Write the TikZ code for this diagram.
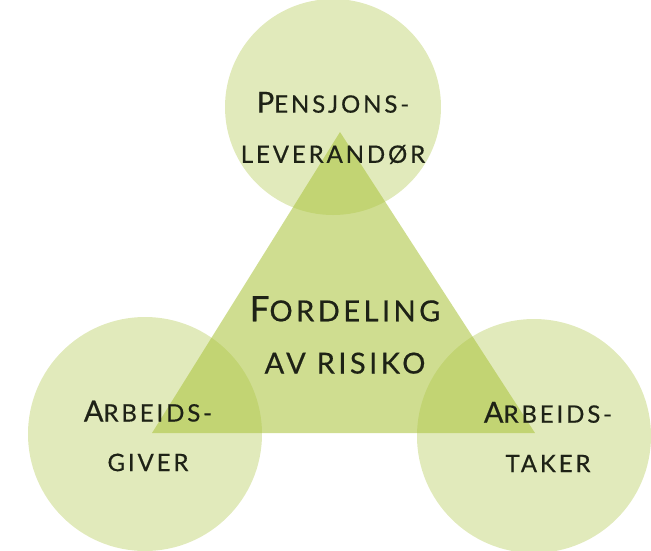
\documentclass[tikz,border=0pt]{standalone}
\usepackage{fontspec}
\setmainfont[LetterSpace=12, FakeBold=0.5]{Lato}
\definecolor{riskgreen}{RGB}{170,195,60}
\definecolor{labelink}{RGB}{30,34,22}
% fake small caps: first letter large, rest small
\newcommand{\smcaps}[4]{{\fontsize{#3}{#3}\selectfont #1}{\fontsize{#4}{#4}\selectfont #2}}

\begin{document}
\begin{tikzpicture}[x=1pt, y=-1pt]
    \tikzset{party/.style={circle, fill=riskgreen, fill opacity=0.35, inner sep=0pt, minimum size=#1},
             partytext/.style={text=labelink, align=center, inner sep=0pt},
             risk/.style={fill=riskgreen, fill opacity=0.57}}
    \useasboundingbox (0,0) rectangle (651,550);

    \node[party=216pt] (leverandor) at (333,107) {};
    \node[party=234pt] (giver) at (145,434) {};
    \node[party=234pt] (taker) at (534,436) {};

    \coordinate (apex) at (340,132);
    \coordinate (left) at (152,433);
    \coordinate (right) at (535,433);
    \fill[risk] (apex) -- (left) -- (right) -- cycle;

    \node[partytext] (leverandortext) at (333,128) {\smcaps{P}{ENSJONS-}{29}{24}\\[31pt] \smcaps{}{LEVERANDØR}{29}{24}};
    \node[partytext] (risikotext) at (345,335) {\smcaps{F}{ORDELING}{35}{29}\\[30pt] \smcaps{}{AV RISIKO}{35}{29}};
    \node[partytext] (givertext) at (148,436) {\smcaps{A}{RBEIDS-}{29}{24}\\[31pt] \smcaps{}{GIVER}{29}{24}};
    \node[partytext] (takertext) at (548,437) {\smcaps{A}{RBEIDS-}{29}{24}\\[31pt] \smcaps{}{TAKER}{29}{24}};
\end{tikzpicture}
\end{document}
